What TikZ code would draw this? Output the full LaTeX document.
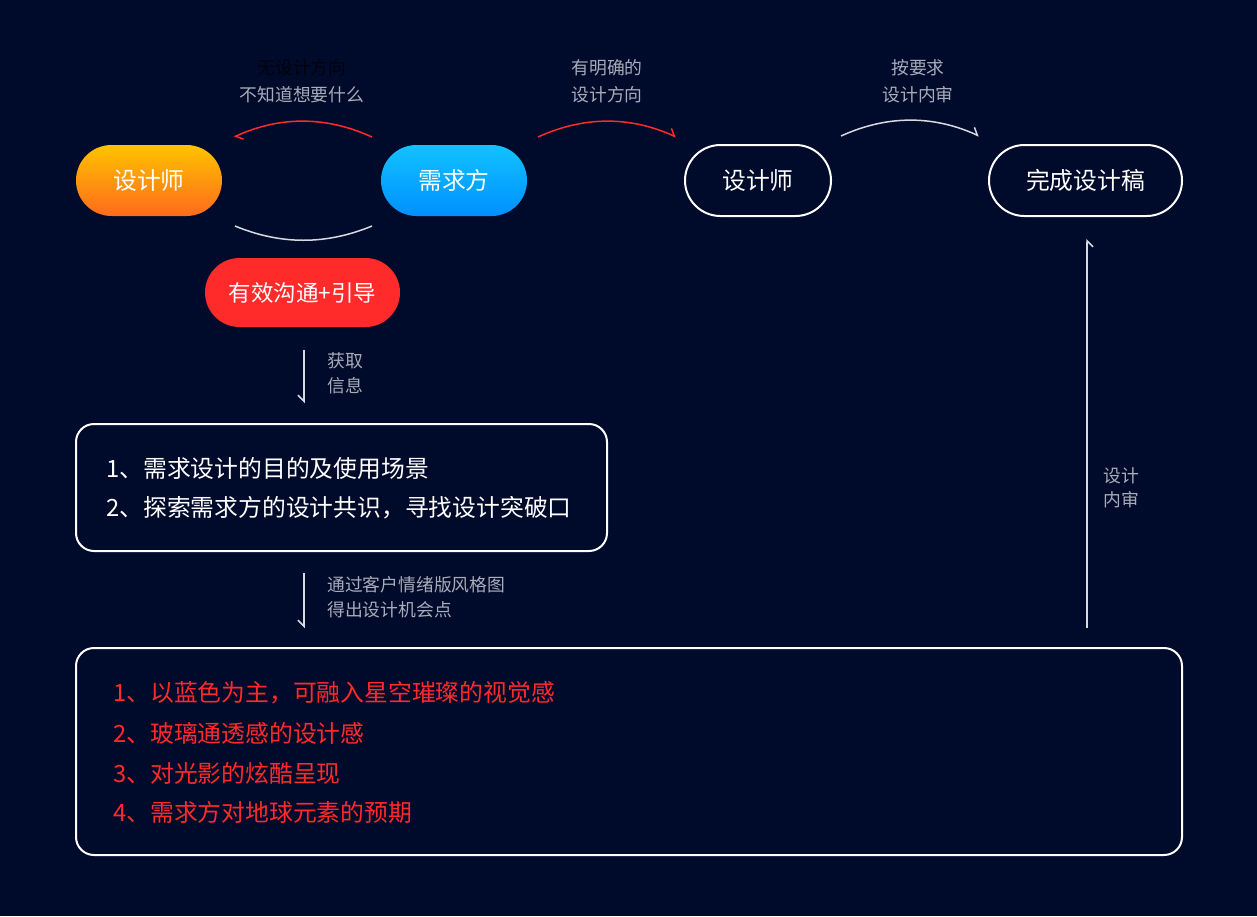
\documentclass[tikz,border=0pt]{standalone}
\usepackage{fontspec}
\setmainfont{Noto Sans CJK SC}
\usetikzlibrary{arrows.meta,shapes.misc}
\definecolor{bg}{HTML}{000A2B}
\definecolor{lbl}{HTML}{A8ACB8}
\definecolor{dim}{HTML}{00030E}
\definecolor{myred}{HTML}{FF2A2A}
\definecolor{oTop}{HTML}{FFC300}
\definecolor{oBot}{HTML}{FF6A1C}
\definecolor{bTop}{HTML}{12C2FF}
\definecolor{bBot}{HTML}{0090FF}
\definecolor{curve}{HTML}{D8DAE2}
\tikzset{
  pill/.style={rounded rectangle, minimum width=146pt, minimum height=71pt, inner sep=0pt, text=white, font=\fontsize{23.8}{28}\selectfont},
  outpill/.style={pill, draw=white, line width=2pt},
  bigbox/.style={draw=white, line width=2pt, rounded corners=18pt},
  lab/.style={text=lbl, font=\fontsize{17.8}{21}\selectfont, inner sep=0pt},
  itemtxt/.style={font=\fontsize{23.8}{28}\selectfont, inner sep=0pt, anchor=west},
  harp/.style={line width=1.5pt, -{Straight Barb[harpoon,length=6pt,width=12pt]}},
  harpr/.style={line width=1.5pt, -{Straight Barb[harpoon,swap,length=6pt,width=12pt]}},
}
\begin{document}
\begin{tikzpicture}[x=1pt,y=-1pt]
\fill[bg] (0,0) rectangle (1257,916);
% pills
\node[pill, top color=oTop, bottom color=oBot] (des) at (149,180.5) {设计师};
\node[pill, top color=bTop, bottom color=bBot] (req) at (454,180.5) {需求方};
\node[outpill] (des2) at (758,180.5) {设计师};
\node[outpill, minimum width=193pt] (done) at (1085.5,180.5) {完成设计稿};
\node[pill, fill=myred, minimum width=195pt, minimum height=69pt, font=\fontsize{22.5}{26}\selectfont] (comm) at (302.5,292.5) {有效沟通+引导};
% boxes
\draw[bigbox] (76,424) rectangle (607,551);
\node[itemtxt, text=white] (t1) at (106,468) {1、需求设计的目的及使用场景};
\node[itemtxt, text=white] (t2) at (106,508) {2、探索需求方的设计共识，寻找设计突破口};
\draw[bigbox] (76,648) rectangle (1182,855);
\node[itemtxt, text=myred] (r1) at (113,693) {1、以蓝色为主，可融入星空璀璨的视觉感};
\node[itemtxt, text=myred] (r2) at (113,733) {2、玻璃通透感的设计感};
\node[itemtxt, text=myred] (r3) at (113,773) {3、对光影的炫酷呈现};
\node[itemtxt, text=myred] (r4) at (113,812) {4、需求方对地球元素的预期};
% coordinates for connectors
\coordinate (a1s) at (372,137); \coordinate (a1e) at (234,137);
\coordinate (a2s) at (235,226); \coordinate (a2e) at (372,226);
\coordinate (a3s) at (538,137); \coordinate (a3e) at (676,137);
\coordinate (a4s) at (841,136); \coordinate (a4e) at (979,136);
\coordinate (d1s) at (304,350); \coordinate (d1e) at (304,403);
\coordinate (d2s) at (304,573); \coordinate (d2e) at (304,628);
\coordinate (u1s) at (1087,628); \coordinate (u1e) at (1087,239);
% curves
\draw[harp, myred] (a1s) .. controls (326,116) and (280,116) .. (a1e);
\draw[line width=1.5pt, curve] (a2s) .. controls (281,245) and (326,245) .. (a2e);
\draw[harp, myred] (a3s) .. controls (584,116) and (630,116) .. (a3e);
\draw[harp, curve] (a4s) .. controls (887,115) and (933,115) .. (a4e);
\draw[harpr, curve] (d1s) -- (d1e);
\draw[harpr, curve] (d2s) -- (d2e);
\draw[harpr, curve] (u1s) -- (u1e);
% labels
\node[lab, text=dim] (l1a) at (302,68) {无设计方向};
\node[lab] (l1b) at (302,95) {不知道想要什么};
\node[lab] (l3a) at (607,68) {有明确的};
\node[lab] (l3b) at (607,95) {设计方向};
\node[lab] (l4a) at (918,68) {按要求};
\node[lab] (l4b) at (918,95) {设计内审};
\node[lab, anchor=west] (d1a) at (327,361) {获取};
\node[lab, anchor=west] (d1b) at (327,386) {信息};
\node[lab, anchor=west] (d2a) at (327,585) {通过客户情绪版风格图};
\node[lab, anchor=west] (d2b) at (327,610) {得出设计机会点};
\node[lab, anchor=west] (u1a) at (1103,476) {设计};
\node[lab, anchor=west] (u1b) at (1103,500) {内审};
\end{tikzpicture}
\end{document}
